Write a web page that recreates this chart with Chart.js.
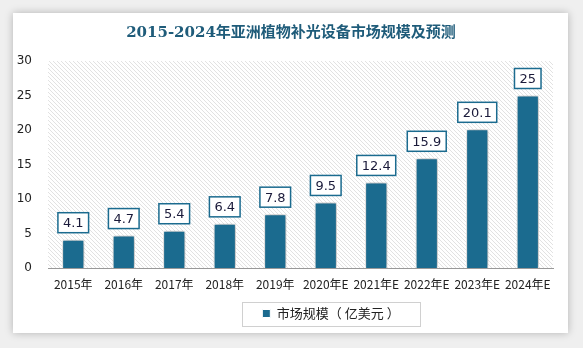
<!DOCTYPE html>
<html>
<head>
<meta charset="utf-8">
<script src="https://cdn.jsdelivr.net/npm/chart.js@4.4.0/dist/chart.umd.min.js"></script>
<style>
  html, body { margin: 0; padding: 0; background: #efefef; }
  #card {
    position: absolute; left: 13px; top: 13px; width: 555px; height: 320px;
    background: #fff; box-shadow: 0 0 8px rgba(0,0,0,0.25);
  }
</style>
</head>
<body>
<div id="card"><canvas id="marketChart" width="555" height="320"></canvas></div>
<script>
const years = ["2015年", "2016年", "2017年", "2018年", "2019年", "2020年E", "2021年E", "2022年E", "2023年E", "2024年E"];
const marketSize = [4.1, 4.7, 5.4, 6.4, 7.8, 9.5, 12.4, 15.9, 20.1, 25];
const yTicks = [0, 5, 10, 15, 20, 25, 30];

const barColor = "#1b6b8f";
const cjk = "'Noto Sans CJK SC', 'Noto Sans', sans-serif";
const legendShift = 48; // legend sits right of centre in the original
const titleShift = 8;

// hatch pattern for the plot background
const pat = document.createElement("canvas");
pat.width = 4; pat.height = 4;
const pctx = pat.getContext("2d");
pctx.strokeStyle = "#e2e2e2";
pctx.lineWidth = 1;
pctx.beginPath();
pctx.moveTo(-1, -1); pctx.lineTo(5, 5);
pctx.moveTo(-1, 3); pctx.lineTo(1, 5);
pctx.moveTo(3, -1); pctx.lineTo(5, 1);
pctx.stroke();

const decor = {
  id: "decor",
  beforeDraw(chart) {
    const { ctx, chartArea: a } = chart;
    if (!chart._shifted) {
      chart.legend.left += legendShift;
      chart.legend.right += legendShift;
      chart.titleBlock.left += titleShift;
      chart.titleBlock.right += titleShift;
      chart._shifted = true;
    }
    ctx.save();
    ctx.fillStyle = ctx.createPattern(pat, "repeat");
    ctx.fillRect(a.left, a.top, a.right - a.left, a.bottom - a.top);
    ctx.restore();
  },
  beforeDatasetsDraw(chart) {
    const ctx = chart.ctx;
    ctx.save();
    ctx.shadowColor = "rgba(0,0,0,0.4)";
    ctx.shadowBlur = 6;
    ctx.shadowOffsetX = 1;
    ctx.shadowOffsetY = 0;
  },
  afterDatasetsDraw(chart) {
    const ctx = chart.ctx;
    ctx.restore();
    // value labels in boxes
    const meta = chart.getDatasetMeta(0);
    ctx.save();
    ctx.font = "13px 'DejaVu Sans', sans-serif";
    ctx.textAlign = "center";
    ctx.textBaseline = "middle";
    meta.data.forEach((bar, i) => {
      const txt = String(marketSize[i]);
      const w = ctx.measureText(txt).width + 10;
      const h = 20;
      const x = bar.x - w / 2;
      const y = bar.y - 7 - h;
      ctx.fillStyle = "#fff";
      ctx.fillRect(x, y, w, h);
      ctx.strokeStyle = barColor;
      ctx.lineWidth = 1.5;
      ctx.strokeRect(x, y, w, h);
      ctx.fillStyle = "#1a1a3a";
      ctx.fillText(txt, bar.x, y + h / 2 + 1);
    });
    ctx.restore();
  },
  afterDraw(chart) {
    const hb = chart.legend.legendHitBoxes[0];
    if (!hb) return;
    const ctx = chart.ctx;
    const cx = (chart.legend.left + chart.legend.right) / 2;
    const cy = hb.top + hb.height / 2;
    ctx.save();
    ctx.strokeStyle = "#d0d0d0";
    ctx.lineWidth = 1;
    ctx.strokeRect(Math.round(cx - 89) + 0.5, Math.round(cy - 12) + 0.5, 178, 24);
    ctx.restore();
  }
};

const ctx = document.getElementById("marketChart").getContext("2d");
const marketChart = new Chart(ctx, {
  type: "bar",
  data: {
    labels: years,
    datasets: [
      {
        label: "市场规模（ 亿美元 ）",
        data: marketSize,
        backgroundColor: barColor,
        borderColor: "#ffffff",
        borderWidth: 1,
        barPercentage: 0.44,
        categoryPercentage: 1,
      },
    ],
  },
  options: {
    responsive: false,
    animation: false,
    layout: { padding: { left: 0, right: 15, top: 0, bottom: 3 } },
    plugins: {
      title: {
        display: true,
        text: "2015-2024年亚洲植物补光设备市场规模及预测",
        color: "#1f5c7a",
        font: { family: "'DejaVu Serif', 'Noto Sans CJK SC', serif", size: 15, weight: "bold" },
        padding: { top: 11, bottom: 19 },
      },
      legend: {
        display: true,
        position: "bottom",
        labels: {
          color: "#222",
          font: { family: cjk, size: 13 },
          boxWidth: 8,
          boxHeight: 8,
          padding: 10,
        },
      },
      tooltip: { enabled: false },
    },
    scales: {
      x: {
        grid: { display: false },
        border: { display: true, color: "#999999", width: 1 },
        ticks: { color: "#222", font: { family: cjk, size: 12 }, maxRotation: 0, autoSkip: false, padding: 1 },
        afterFit(scale) { scale.height = 29; },
      },
      y: {
        min: 0,
        max: 30,
        afterBuildTicks(scale) { scale.ticks = yTicks.map(v => ({ value: v })); },
        grid: { display: false },
        border: { display: false },
        ticks: { color: "#222", font: { family: "'DejaVu Sans', sans-serif", size: 12 }, padding: 8 },
        afterFit(scale) { scale.width = 35; },
      },
    },
  },
  plugins: [decor],
});
</script>
</body>
</html>
